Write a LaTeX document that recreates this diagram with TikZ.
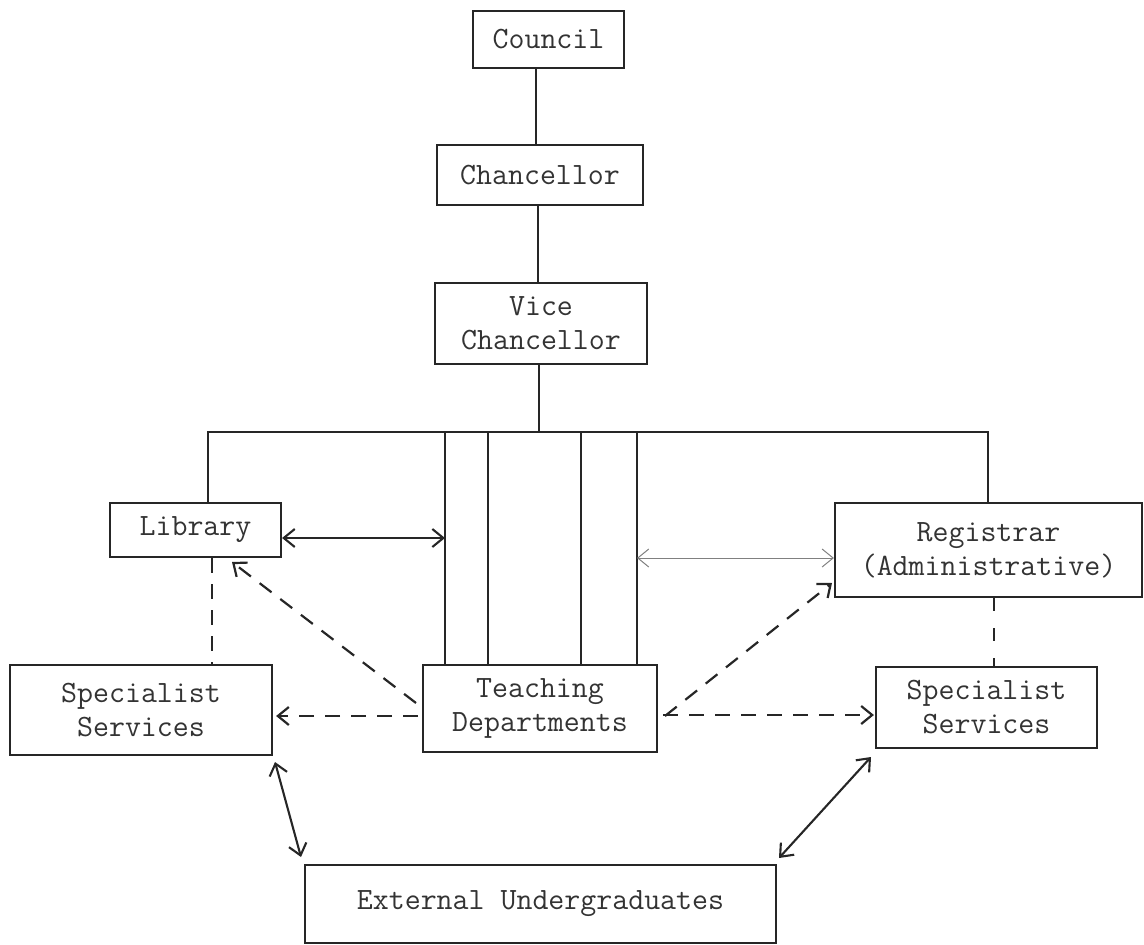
\documentclass[tikz,border=0pt]{standalone}
\usetikzlibrary{arrows.meta,calc}
\begin{document}
\begin{tikzpicture}[x=1pt,y=-1pt,
  >={Straight Barb[length=11pt,width=18pt]},
  box/.style={draw=black!85, line width=2.2pt, inner sep=0pt, align=center,
    text=black!80, font=\ttfamily\fontsize{31}{34}\selectfont},
  conn/.style={draw=black!85, line width=2.1pt},
  faint/.style={draw=black!50, line width=1pt},
  dashline/.style={draw=black!85, line width=2.2pt, dash pattern=on 15pt off 11pt},
  sparse/.style={draw=black!85, line width=2.2pt, dash pattern=on 13pt off 17pt}]
\useasboundingbox (0,0) rectangle (1144,945);

% boxes of the chart
\node[box, minimum width=151, minimum height=57] (council)    at (548.5,39.5)  {Council};
\node[box, minimum width=206, minimum height=60] (chancellor) at (540,175)     {Chancellor};
\node[box, minimum width=212, minimum height=81] (vc)         at (541,323.5)   {Vice\\Chancellor};
\node[box, minimum width=171, minimum height=54] (library)    at (195.5,530)   {Library};
\node[box, minimum width=307, minimum height=94] (registrar)  at (988.5,550)   {Registrar\\(Administrative)};
\node[box, minimum width=234, minimum height=87] (teaching)   at (540,708.5)   {Teaching\\Departments};
\node[box, minimum width=262, minimum height=90] (specL)      at (141,710)     {Specialist\\Services};
\node[box, minimum width=221, minimum height=81] (specR)      at (986.5,707.5) {Specialist\\Services};
\node[box, minimum width=471, minimum height=78] (external)   at (540.5,904)   {External Undergraduates};

% line of authority
\coordinate (c1) at (536,0);
\coordinate (c2) at (538,0);
\draw[conn] (council.south -| c1) -- (chancellor.north -| c1);
\draw[conn] (chancellor.south -| c2) -- (vc.north -| c2);
\coordinate (busL) at (208,432);
\coordinate (busR) at (988,432);
\coordinate (vcdrop) at (539,432);
\draw[conn] (vc.south -| vcdrop) -- (vcdrop);
\draw[conn] (library.north -| busL) -- (busL) -- (busR) -- (registrar.north -| busR);
\foreach \x [count=\i] in {445,488,581,637} {
  \coordinate (d\i) at (\x,432);
  \draw[conn] (d\i) -- (teaching.north -| d\i);
}

% links between library, departments and registrar
\coordinate (la) at (445,538);
\draw[conn,<->] (library.east |- la) -- (la);
\coordinate (ra) at (637,558);
\draw[faint,<->] (ra) -- (registrar.west |- ra);

% dashed links from the teaching departments
\coordinate (tdl) at (416,703);
\coordinate (libtip) at (232,562);
\draw[dashline,->] (tdl) -- (libtip);
\coordinate (tdr) at (665,716);
\coordinate (regtip) at (832,583);
\draw[dashline,->] (tdr) -- (regtip);
\coordinate (hl) at (418,716);
\draw[dashline,->] (hl) -- ($(specL.east |- hl)+(3,0)$);
\coordinate (hr) at (663,715);
\draw[dashline,->] (hr) -- ($(specR.west |- hr)+(-1,0)$);

% dashed links to the specialist services
\coordinate (vl) at (212,0);
\draw[dashline] (library.south -| vl) -- (specL.north -| vl);
\coordinate (vr) at (994,0);
\draw[sparse] (registrar.south -| vr) -- (specR.north -| vr);

% links with the external undergraduates
\coordinate (a1) at (275,762);
\coordinate (a2) at (301,857);
\draw[conn,<->] (a1) -- (a2);
\coordinate (a3) at (871,757);
\coordinate (a4) at (779,858);
\draw[conn,<->] (a3) -- (a4);
\end{tikzpicture}
\end{document}
